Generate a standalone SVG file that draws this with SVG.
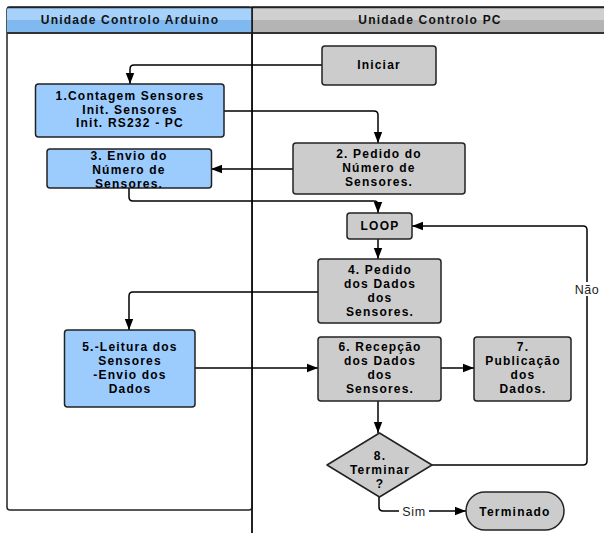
<svg xmlns="http://www.w3.org/2000/svg" width="604" height="533" viewBox="0 0 604 533">
<defs>
<marker id="ah" markerWidth="12" markerHeight="10" refX="11" refY="5" orient="auto" markerUnits="userSpaceOnUse">
<path d="M0,0.8 L11,5 L0,9.2 Z" fill="#000"/>
</marker>
<linearGradient id="gb" x1="0" y1="0" x2="0" y2="1">
<stop offset="0" stop-color="#a6d1fa"/><stop offset="0.5" stop-color="#a6d1fa"/><stop offset="0.5" stop-color="#80b9ef"/><stop offset="1" stop-color="#80b9ef"/>
</linearGradient>
<linearGradient id="gg" x1="0" y1="0" x2="0" y2="1">
<stop offset="0" stop-color="#d0d0d0"/><stop offset="0.5" stop-color="#d0d0d0"/><stop offset="0.5" stop-color="#b4b4b4"/><stop offset="1" stop-color="#b4b4b4"/>
</linearGradient>
</defs>
<style>
.t{font-family:"Liberation Sans",Arial,sans-serif;font-weight:bold;font-size:12px;letter-spacing:1.2px;fill:#000;text-anchor:middle}
.h{font-family:"Liberation Sans",Arial,sans-serif;font-weight:bold;font-size:12px;letter-spacing:1.2px;fill:#111;text-anchor:middle}
.l{font-family:"Liberation Sans",Arial,sans-serif;font-size:12.5px;letter-spacing:0.6px;fill:#222;text-anchor:middle}
.blue{fill:#9ccbfd;stroke:#222;stroke-width:1.5}
.gray{fill:#cccccc;stroke:#222;stroke-width:1.5}
.c{fill:none;stroke:#000;stroke-width:1.5}
.a{fill:none;stroke:#000;stroke-width:1.5;marker-end:url(#ah)}
</style>
<g id="lanes">
<rect x="252" y="7" width="360" height="530" fill="#fff" stroke="#222" stroke-width="1.5"/>
<rect x="252" y="7" width="360" height="26" fill="url(#gg)"/>
<rect x="7" y="7" width="245" height="503" rx="3" fill="#fff" stroke="#222" stroke-width="1.5"/>
<path d="M7,33 V10 Q7,7 10,7 H252 V33 Z" fill="url(#gb)"/>
<line x1="7" y1="33" x2="604" y2="33" stroke="#333" stroke-width="2"/>
<line x1="7" y1="7.5" x2="604" y2="7.5" stroke="#222" stroke-width="1.5"/>
<line x1="252" y1="7" x2="252" y2="533" stroke="#111" stroke-width="1.5"/>
<text class="h" x="130" y="24">Unidade Controlo Arduino</text>
<text class="h" x="430" y="24">Unidade Controlo PC</text>
</g>
<g id="connectors">
<path class="a" d="M322,65 H134 Q130,65 130,69 V84"/>
<path class="a" d="M224,111 H374 Q378,111 378,115 V143"/>
<path class="a" d="M293,169 H211"/>
<path class="a" d="M129,188 V197 Q129,201 133,201 H374 Q378,201 378,205 V213"/>
<path class="a" d="M378,239 V259"/>
<path class="a" d="M318,292 H133 Q129,292 129,296 V330"/>
<path class="a" d="M195,368 H318"/>
<path class="a" d="M441,368 H474"/>
<path class="a" d="M378,401 V433"/>
<path class="a" d="M432,465 H583 Q587,465 587,461 V230 Q587,226 583,226 H412"/>
<path class="a" d="M379,497 V507 Q379,511 383,511 H466"/>
<rect x="571" y="282" width="32" height="14" fill="#fff"/>
<text class="l" x="587" y="294">Não</text>
<rect x="399" y="504" width="30" height="14" fill="#fff"/>
<text class="l" x="414" y="516">Sim</text>
</g>
<g id="iniciar">
<rect class="gray" x="322" y="46" width="114" height="39" rx="3"/>
<text class="t" x="379" y="69">Iniciar</text>
</g>
<g id="n1">
<rect class="blue" x="35.5" y="84" width="188.5" height="53" rx="3"/>
<text class="t" x="130" y="100">1.Contagem Sensores</text>
<text class="t" x="130" y="113.5">Init. Sensores</text>
<text class="t" x="130" y="127">Init. RS232 - PC</text>
</g>
<g id="n2">
<rect class="gray" x="293" y="143" width="172" height="51" rx="3"/>
<text class="t" x="379" y="157.5">2. Pedido do</text>
<text class="t" x="379" y="171.5">Número de</text>
<text class="t" x="379" y="186">Sensores.</text>
</g>
<g id="n3">
<rect class="blue" x="47" y="149" width="164.5" height="39" rx="3"/>
<text class="t" x="129" y="159.5">3. Envio do</text>
<text class="t" x="129" y="173.5">Número de</text>
<text class="t" x="129" y="187.5">Sensores.</text>
</g>
<g id="loop">
<rect class="gray" x="347" y="213" width="65" height="26" rx="3"/>
<text class="t" x="380" y="230">LOOP</text>
</g>
<g id="n4">
<rect class="gray" x="318" y="259" width="123" height="64" rx="3"/>
<text class="t" x="380" y="273.5">4. Pedido</text>
<text class="t" x="380" y="287.5">dos Dados</text>
<text class="t" x="380" y="301.5">dos</text>
<text class="t" x="380" y="315.5">Sensores.</text>
</g>
<g id="n5">
<rect class="blue" x="64.5" y="330" width="130.5" height="77" rx="3"/>
<text class="t" x="130" y="350.5">5.-Leitura dos</text>
<text class="t" x="130" y="364.5">Sensores</text>
<text class="t" x="130" y="378.5">-Envio dos</text>
<text class="t" x="130" y="392.5">Dados</text>
</g>
<g id="n6">
<rect class="gray" x="318" y="337" width="123" height="64" rx="3"/>
<text class="t" x="380" y="350.5">6. Recepção</text>
<text class="t" x="380" y="364.5">dos Dados</text>
<text class="t" x="380" y="378.5">dos</text>
<text class="t" x="380" y="392.5">Sensores.</text>
</g>
<g id="n7">
<rect class="gray" x="474" y="337" width="97" height="64" rx="3"/>
<text class="t" x="523" y="350.5">7.</text>
<text class="t" x="523" y="364.5">Publicação</text>
<text class="t" x="523" y="378.5">dos</text>
<text class="t" x="523" y="392.5">Dados.</text>
</g>
<g id="n8">
<polygon class="gray" points="379.5,433 432,465 379.5,497 327,465" stroke-linejoin="round"/>
<text class="t" x="380" y="459.5">8.</text>
<text class="t" x="380" y="474">Terminar</text>
<text class="t" x="380" y="488">?</text>
</g>
<g id="terminado">
<rect class="gray" x="466" y="492" width="98" height="38" rx="19"/>
<text class="t" x="515" y="515.5">Terminado</text>
</g>
</svg>
